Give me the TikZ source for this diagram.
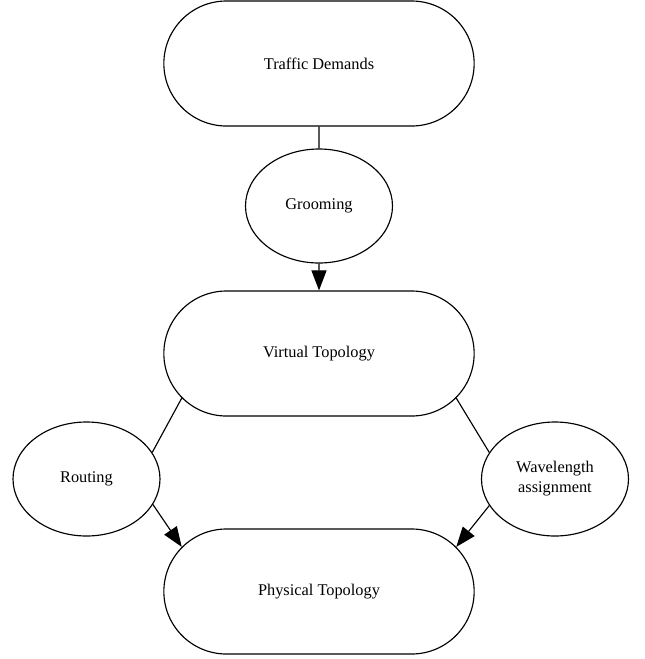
\documentclass[tikz,border=0pt]{standalone}
\usepackage{fontspec}
\setmainfont{Liberation Serif}
\usetikzlibrary{shapes.misc,shapes.geometric,arrows.meta}
\begin{document}
\begin{tikzpicture}[font=\fontsize{9.3}{11.4}\selectfont, line width=0.65pt,
  layer/.style={rounded rectangle, draw, minimum width=6.44cm, minimum height=2.5cm},
  task/.style={ellipse, draw, minimum width=2.94cm, minimum height=2.28cm, inner sep=0pt, align=center},
  flow/.style={-{Triangle[length=0.4cm,width=0.3cm]}}]
  \useasboundingbox (0,0) rectangle (12.9,-13.18);
  % layers
  \node[layer] (demands) at (6.38,-1.27) {Traffic Demands};
  \node[layer] (virtual) at (6.38,-7.07) {Virtual Topology};
  \node[layer] (physical) at (6.38,-11.83) {Physical Topology};
  % tasks
  \node[task] (groom) at (6.38,-4.12) {Grooming};
  \node[task] (routing) at (1.73,-9.58) {Routing};
  \node[task] (wave) at (11.1,-9.58) {Wavelength\\assignment};
  % edges
  \draw (demands) -- (groom);
  \draw[flow] (groom) -- (virtual);
  \draw (virtual.198) -- (routing.22);
  \draw[flow] (routing.-21) -- (physical.162);
  \draw (virtual.-18) -- (wave.158);
  \draw[flow] (wave.202) -- (physical.18);
\end{tikzpicture}
\end{document}
